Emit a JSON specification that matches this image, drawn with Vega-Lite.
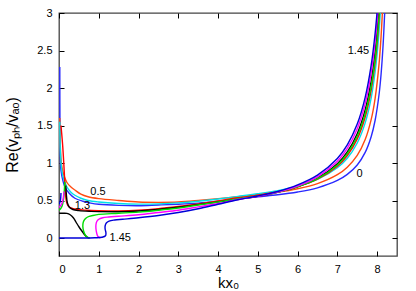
{
"$schema":"https://vega.github.io/schema/vega-lite/v6.json",
"width":338,"height":243,
"autosize":{"type":"none"},
"padding":{"left":59,"top":13,"right":19,"bottom":35},
"background":"white",
"config":{"view":{"stroke":"#444","strokeWidth":1.3},"font":"Liberation Sans",
"axis":{"labelFont":"Liberation Sans","labelFontSize":11,"labelColor":"#000","titleFont":"Liberation Sans","titleFontWeight":"normal","titleColor":"#000","tickColor":"#000","tickWidth":1,"grid":false,"domain":false}},
"datasets":{
"lines":[
{"c":"0","b":"0a","i":1,"x":0.02,"y":2.28},{"c":"0","b":"0a","i":2,"x":0.022,"y":1.8},{"c":"0","b":"0a","i":3,"x":0.025,"y":1.4},{"c":"0","b":"0a","i":4,"x":0.032,"y":1.1},{"c":"0","b":"0a","i":5,"x":0.05,"y":0.9},{"c":"0","b":"0a","i":6,"x":0.1,"y":0.76},{"c":"0","b":"0a","i":7,"x":0.15,"y":0.68},{"c":"0","b":"0a","i":8,"x":0.25,"y":0.6},{"c":"0","b":"0a","i":9,"x":0.4,"y":0.53},{"c":"0","b":"0a","i":10,"x":0.6,"y":0.49},{"c":"0","b":"0a","i":11,"x":0.8,"y":0.465},{"c":"0","b":"0a","i":12,"x":1.0,"y":0.45},{"c":"0","b":"0a","i":13,"x":1.5,"y":0.435},{"c":"0","b":"0a","i":14,"x":2.0,"y":0.43},{"c":"0","b":"0a","i":15,"x":2.5,"y":0.44},{"c":"0","b":"0a","i":16,"x":3.0,"y":0.45},{"c":"0","b":"0a","i":17,"x":3.5,"y":0.465},{"c":"0","b":"0a","i":18,"x":4.0,"y":0.49},{"c":"0","b":"0a","i":19,"x":4.5,"y":0.52},{"c":"0","b":"0a","i":20,"x":5,"y":0.55},{"c":"0","b":"0a","i":21,"x":5.5,"y":0.576},{"c":"0","b":"0a","i":22,"x":6,"y":0.613},{"c":"0","b":"0a","i":23,"x":6.5,"y":0.669},{"c":"0","b":"0a","i":24,"x":7,"y":0.767},{"c":"0","b":"0a","i":25,"x":7.25,"y":0.848},{"c":"0","b":"0a","i":26,"x":7.5,"y":0.974},{"c":"0","b":"0a","i":27,"x":7.7,"y":1.142},{"c":"0","b":"0a","i":28,"x":7.85,"y":1.351},{"c":"0","b":"0a","i":29,"x":7.95,"y":1.57},{"c":"0","b":"0a","i":30,"x":8.05,"y":1.92},{"c":"0","b":"0a","i":31,"x":8.1,"y":2.187},{"c":"0","b":"0a","i":32,"x":8.15,"y":2.569},{"c":"0","b":"0a","i":33,"x":8.19,"y":3.0},

{"c":"0.5","b":"0.5a","i":1,"x":0.02,"y":1.6},{"c":"0.5","b":"0.5a","i":2,"x":0.035,"y":1.2},{"c":"0.5","b":"0.5a","i":3,"x":0.06,"y":1.0},{"c":"0.5","b":"0.5a","i":4,"x":0.1,"y":0.88},{"c":"0.5","b":"0.5a","i":5,"x":0.2,"y":0.74},{"c":"0.5","b":"0.5a","i":6,"x":0.3,"y":0.68},{"c":"0.5","b":"0.5a","i":7,"x":0.4,"y":0.64},{"c":"0.5","b":"0.5a","i":8,"x":0.55,"y":0.585},{"c":"0.5","b":"0.5a","i":9,"x":0.73,"y":0.55},{"c":"0.5","b":"0.5a","i":10,"x":1.0,"y":0.525},{"c":"0.5","b":"0.5a","i":11,"x":1.5,"y":0.5},{"c":"0.5","b":"0.5a","i":12,"x":2.0,"y":0.48},{"c":"0.5","b":"0.5a","i":13,"x":2.5,"y":0.475},{"c":"0.5","b":"0.5a","i":14,"x":3.0,"y":0.48},{"c":"0.5","b":"0.5a","i":15,"x":3.5,"y":0.5},{"c":"0.5","b":"0.5a","i":16,"x":4.0,"y":0.525},{"c":"0.5","b":"0.5a","i":17,"x":4.5,"y":0.55},{"c":"0.5","b":"0.5a","i":18,"x":5,"y":0.58},{"c":"0.5","b":"0.5a","i":19,"x":5.5,"y":0.611},{"c":"0.5","b":"0.5a","i":20,"x":6,"y":0.656},{"c":"0.5","b":"0.5a","i":21,"x":6.5,"y":0.725},{"c":"0.5","b":"0.5a","i":22,"x":7,"y":0.844},{"c":"0.5","b":"0.5a","i":23,"x":7.25,"y":0.944},{"c":"0.5","b":"0.5a","i":24,"x":7.5,"y":1.101},{"c":"0.5","b":"0.5a","i":25,"x":7.7,"y":1.312},{"c":"0.5","b":"0.5a","i":26,"x":7.85,"y":1.578},{"c":"0.5","b":"0.5a","i":27,"x":7.95,"y":1.863},{"c":"0.5","b":"0.5a","i":28,"x":8.05,"y":2.328},{"c":"0.5","b":"0.5a","i":29,"x":8.1,"y":2.694},{"c":"0.5","b":"0.5a","i":30,"x":8.132,"y":3.0},

{"c":"1","b":"1a","i":1,"x":0.02,"y":1.55},{"c":"1","b":"1a","i":2,"x":0.035,"y":1.15},{"c":"1","b":"1a","i":3,"x":0.06,"y":0.95},{"c":"1","b":"1a","i":4,"x":0.1,"y":0.82},{"c":"1","b":"1a","i":5,"x":0.2,"y":0.68},{"c":"1","b":"1a","i":6,"x":0.3,"y":0.61},{"c":"1","b":"1a","i":7,"x":0.4,"y":0.57},{"c":"1","b":"1a","i":8,"x":0.55,"y":0.53},{"c":"1","b":"1a","i":9,"x":0.73,"y":0.5},{"c":"1","b":"1a","i":10,"x":1.0,"y":0.48},{"c":"1","b":"1a","i":11,"x":1.5,"y":0.46},{"c":"1","b":"1a","i":12,"x":2.0,"y":0.452},{"c":"1","b":"1a","i":13,"x":2.5,"y":0.455},{"c":"1","b":"1a","i":14,"x":3.0,"y":0.468},{"c":"1","b":"1a","i":15,"x":3.5,"y":0.49},{"c":"1","b":"1a","i":16,"x":4.0,"y":0.52},{"c":"1","b":"1a","i":17,"x":4.5,"y":0.555},{"c":"1","b":"1a","i":18,"x":5,"y":0.59},{"c":"1","b":"1a","i":19,"x":5.5,"y":0.632},{"c":"1","b":"1a","i":20,"x":6,"y":0.691},{"c":"1","b":"1a","i":21,"x":6.5,"y":0.781},{"c":"1","b":"1a","i":22,"x":7,"y":0.936},{"c":"1","b":"1a","i":23,"x":7.25,"y":1.063},{"c":"1","b":"1a","i":24,"x":7.5,"y":1.267},{"c":"1","b":"1a","i":25,"x":7.7,"y":1.535},{"c":"1","b":"1a","i":26,"x":7.85,"y":1.866},{"c":"1","b":"1a","i":27,"x":7.95,"y":2.214},{"c":"1","b":"1a","i":28,"x":8.0,"y":2.455},{"c":"1","b":"1a","i":29,"x":8.05,"y":2.769},{"c":"1","b":"1a","i":30,"x":8.08,"y":3.0},

{"c":"1.2","b":"1.2a","i":1,"x":0.05,"y":1.5},{"c":"1.2","b":"1.2a","i":2,"x":0.09,"y":1.25},{"c":"1.2","b":"1.2a","i":3,"x":0.12,"y":1.0},{"c":"1.2","b":"1.2a","i":4,"x":0.14,"y":0.8},{"c":"1.2","b":"1.2a","i":5,"x":0.16,"y":0.6},{"c":"1.2","b":"1.2a","i":6,"x":0.19,"y":0.48},{"c":"1.2","b":"1.2a","i":7,"x":0.23,"y":0.43},{"c":"1.2","b":"1.2a","i":8,"x":0.3,"y":0.4},{"c":"1.2","b":"1.2a","i":9,"x":0.45,"y":0.38},{"c":"1.2","b":"1.2a","i":10,"x":0.7,"y":0.37},{"c":"1.2","b":"1.2a","i":11,"x":1.0,"y":0.365},{"c":"1.2","b":"1.2a","i":12,"x":1.5,"y":0.362},{"c":"1.2","b":"1.2a","i":13,"x":2.0,"y":0.37},{"c":"1.2","b":"1.2a","i":14,"x":2.5,"y":0.39},{"c":"1.2","b":"1.2a","i":15,"x":3.0,"y":0.42},{"c":"1.2","b":"1.2a","i":16,"x":3.5,"y":0.455},{"c":"1.2","b":"1.2a","i":17,"x":4.0,"y":0.495},{"c":"1.2","b":"1.2a","i":18,"x":4.5,"y":0.536},{"c":"1.2","b":"1.2a","i":19,"x":5,"y":0.571},{"c":"1.2","b":"1.2a","i":20,"x":5.5,"y":0.617},{"c":"1.2","b":"1.2a","i":21,"x":6,"y":0.683},{"c":"1.2","b":"1.2a","i":22,"x":6.5,"y":0.784},{"c":"1.2","b":"1.2a","i":23,"x":7,"y":0.957},{"c":"1.2","b":"1.2a","i":24,"x":7.25,"y":1.1},{"c":"1.2","b":"1.2a","i":25,"x":7.5,"y":1.322},{"c":"1.2","b":"1.2a","i":26,"x":7.7,"y":1.614},{"c":"1.2","b":"1.2a","i":27,"x":7.85,"y":1.973},{"c":"1.2","b":"1.2a","i":28,"x":7.95,"y":2.344},{"c":"1.2","b":"1.2a","i":29,"x":8.0,"y":2.6},{"c":"1.2","b":"1.2a","i":30,"x":8.059,"y":3.0},

{"c":"1.3","b":"1.3a","i":1,"x":0.17,"y":0.7},{"c":"1.3","b":"1.3a","i":2,"x":0.185,"y":0.58},{"c":"1.3","b":"1.3a","i":3,"x":0.21,"y":0.47},{"c":"1.3","b":"1.3a","i":4,"x":0.26,"y":0.41},{"c":"1.3","b":"1.3a","i":5,"x":0.35,"y":0.38},{"c":"1.3","b":"1.3a","i":6,"x":0.5,"y":0.365},{"c":"1.3","b":"1.3a","i":7,"x":0.8,"y":0.355},{"c":"1.3","b":"1.3a","i":8,"x":1.0,"y":0.352},{"c":"1.3","b":"1.3a","i":9,"x":1.5,"y":0.35},{"c":"1.3","b":"1.3a","i":10,"x":2.0,"y":0.36},{"c":"1.3","b":"1.3a","i":11,"x":2.5,"y":0.38},{"c":"1.3","b":"1.3a","i":12,"x":3.0,"y":0.41},{"c":"1.3","b":"1.3a","i":13,"x":3.5,"y":0.445},{"c":"1.3","b":"1.3a","i":14,"x":4.0,"y":0.48},{"c":"1.3","b":"1.3a","i":15,"x":4.5,"y":0.518},{"c":"1.3","b":"1.3a","i":16,"x":5,"y":0.557},{"c":"1.3","b":"1.3a","i":17,"x":5.5,"y":0.61},{"c":"1.3","b":"1.3a","i":18,"x":6,"y":0.684},{"c":"1.3","b":"1.3a","i":19,"x":6.5,"y":0.797},{"c":"1.3","b":"1.3a","i":20,"x":7,"y":0.989},{"c":"1.3","b":"1.3a","i":21,"x":7.25,"y":1.147},{"c":"1.3","b":"1.3a","i":22,"x":7.5,"y":1.391},{"c":"1.3","b":"1.3a","i":23,"x":7.7,"y":1.708},{"c":"1.3","b":"1.3a","i":24,"x":7.85,"y":2.092},{"c":"1.3","b":"1.3a","i":25,"x":7.95,"y":2.484},{"c":"1.3","b":"1.3a","i":26,"x":8.038,"y":3.0},
{"c":"1.3","b":"1.3b","i":1,"x":0.0,"y":0.33},{"c":"1.3","b":"1.3b","i":2,"x":0.1,"y":0.33},{"c":"1.3","b":"1.3b","i":3,"x":0.2,"y":0.328},{"c":"1.3","b":"1.3b","i":4,"x":0.28,"y":0.31},{"c":"1.3","b":"1.3b","i":5,"x":0.36,"y":0.27},{"c":"1.3","b":"1.3b","i":6,"x":0.43,"y":0.21},{"c":"1.3","b":"1.3b","i":7,"x":0.5,"y":0.15},{"c":"1.3","b":"1.3b","i":8,"x":0.58,"y":0.09},{"c":"1.3","b":"1.3b","i":9,"x":0.65,"y":0.04},{"c":"1.3","b":"1.3b","i":10,"x":0.71,"y":0.01},{"c":"1.3","b":"1.3b","i":11,"x":0.75,"y":0.0},

{"c":"1.4","b":"1.4a","i":1,"x":0.0,"y":0.37},{"c":"1.4","b":"1.4a","i":2,"x":0.04,"y":0.39},{"c":"1.4","b":"1.4a","i":3,"x":0.08,"y":0.43},{"c":"1.4","b":"1.4a","i":4,"x":0.11,"y":0.5},{"c":"1.4","b":"1.4a","i":5,"x":0.13,"y":0.6},{"c":"1.4","b":"1.4a","i":6,"x":0.145,"y":0.75},
{"c":"1.4","b":"1.4b","i":1,"x":0.78,"y":0.0},{"c":"1.4","b":"1.4b","i":2,"x":0.72,"y":0.01},{"c":"1.4","b":"1.4b","i":3,"x":0.66,"y":0.04},{"c":"1.4","b":"1.4b","i":4,"x":0.62,"y":0.09},{"c":"1.4","b":"1.4b","i":5,"x":0.6,"y":0.15},{"c":"1.4","b":"1.4b","i":6,"x":0.61,"y":0.21},{"c":"1.4","b":"1.4b","i":7,"x":0.65,"y":0.25},{"c":"1.4","b":"1.4b","i":8,"x":0.72,"y":0.28},{"c":"1.4","b":"1.4b","i":9,"x":0.85,"y":0.3},{"c":"1.4","b":"1.4b","i":10,"x":1.0,"y":0.315},{"c":"1.4","b":"1.4b","i":11,"x":1.5,"y":0.33},{"c":"1.4","b":"1.4b","i":12,"x":2.0,"y":0.345},{"c":"1.4","b":"1.4b","i":13,"x":2.5,"y":0.37},{"c":"1.4","b":"1.4b","i":14,"x":3.0,"y":0.4},{"c":"1.4","b":"1.4b","i":15,"x":3.5,"y":0.44},{"c":"1.4","b":"1.4b","i":16,"x":4.0,"y":0.48},{"c":"1.4","b":"1.4b","i":17,"x":4.5,"y":0.525},{"c":"1.4","b":"1.4b","i":18,"x":5,"y":0.562},{"c":"1.4","b":"1.4b","i":19,"x":5.5,"y":0.612},{"c":"1.4","b":"1.4b","i":20,"x":6,"y":0.683},{"c":"1.4","b":"1.4b","i":21,"x":6.5,"y":0.791},{"c":"1.4","b":"1.4b","i":22,"x":7,"y":0.974},{"c":"1.4","b":"1.4b","i":23,"x":7.25,"y":1.125},{"c":"1.4","b":"1.4b","i":24,"x":7.5,"y":1.357},{"c":"1.4","b":"1.4b","i":25,"x":7.7,"y":1.659},{"c":"1.4","b":"1.4b","i":26,"x":7.85,"y":2.024},{"c":"1.4","b":"1.4b","i":27,"x":7.95,"y":2.398},{"c":"1.4","b":"1.4b","i":28,"x":8.0,"y":2.651},{"c":"1.4","b":"1.4b","i":29,"x":8.054,"y":3.0},

{"c":"1.43","b":"1.43a","i":1,"x":0.0,"y":0.41},{"c":"1.43","b":"1.43a","i":2,"x":0.04,"y":0.43},{"c":"1.43","b":"1.43a","i":3,"x":0.08,"y":0.47},{"c":"1.43","b":"1.43a","i":4,"x":0.1,"y":0.51},{"c":"1.43","b":"1.43a","i":5,"x":0.115,"y":0.56},{"c":"1.43","b":"1.43a","i":6,"x":0.125,"y":0.62},
{"c":"1.43","b":"1.43b","i":1,"x":1.04,"y":0.0},{"c":"1.43","b":"1.43b","i":2,"x":0.98,"y":0.02},{"c":"1.43","b":"1.43b","i":3,"x":0.95,"y":0.06},{"c":"1.43","b":"1.43b","i":4,"x":0.93,"y":0.12},{"c":"1.43","b":"1.43b","i":5,"x":0.93,"y":0.18},{"c":"1.43","b":"1.43b","i":6,"x":0.95,"y":0.22},{"c":"1.43","b":"1.43b","i":7,"x":1.0,"y":0.25},{"c":"1.43","b":"1.43b","i":8,"x":1.1,"y":0.27},{"c":"1.43","b":"1.43b","i":9,"x":1.25,"y":0.28},{"c":"1.43","b":"1.43b","i":10,"x":1.5,"y":0.29},{"c":"1.43","b":"1.43b","i":11,"x":2.0,"y":0.31},{"c":"1.43","b":"1.43b","i":12,"x":2.5,"y":0.34},{"c":"1.43","b":"1.43b","i":13,"x":3.0,"y":0.37},{"c":"1.43","b":"1.43b","i":14,"x":3.5,"y":0.415},{"c":"1.43","b":"1.43b","i":15,"x":4.0,"y":0.46},{"c":"1.43","b":"1.43b","i":16,"x":4.5,"y":0.513},{"c":"1.43","b":"1.43b","i":17,"x":5,"y":0.555},{"c":"1.43","b":"1.43b","i":18,"x":5.5,"y":0.612},{"c":"1.43","b":"1.43b","i":19,"x":6,"y":0.693},{"c":"1.43","b":"1.43b","i":20,"x":6.5,"y":0.816},{"c":"1.43","b":"1.43b","i":21,"x":7,"y":1.024},{"c":"1.43","b":"1.43b","i":22,"x":7.25,"y":1.195},{"c":"1.43","b":"1.43b","i":23,"x":7.5,"y":1.457},{"c":"1.43","b":"1.43b","i":24,"x":7.7,"y":1.795},{"c":"1.43","b":"1.43b","i":25,"x":7.85,"y":2.203},{"c":"1.43","b":"1.43b","i":26,"x":7.95,"y":2.616},{"c":"1.43","b":"1.43b","i":27,"x":8.016,"y":3.0},

{"c":"1.45","b":"1.45a","i":1,"x":0.0,"y":0.45},{"c":"1.45","b":"1.45a","i":2,"x":0.02,"y":0.47},{"c":"1.45","b":"1.45a","i":3,"x":0.035,"y":0.5},{"c":"1.45","b":"1.45a","i":4,"x":0.045,"y":0.55},{"c":"1.45","b":"1.45a","i":5,"x":0.05,"y":0.6},
{"c":"1.45","b":"1.45b","i":1,"x":0.0,"y":0.0},{"c":"1.45","b":"1.45b","i":2,"x":0.5,"y":0.0},{"c":"1.45","b":"1.45b","i":3,"x":0.9,"y":0.003},{"c":"1.45","b":"1.45b","i":4,"x":1.08,"y":0.01},{"c":"1.45","b":"1.45b","i":5,"x":1.17,"y":0.03},{"c":"1.45","b":"1.45b","i":6,"x":1.18,"y":0.07},{"c":"1.45","b":"1.45b","i":7,"x":1.16,"y":0.12},{"c":"1.45","b":"1.45b","i":8,"x":1.16,"y":0.16},{"c":"1.45","b":"1.45b","i":9,"x":1.19,"y":0.2},{"c":"1.45","b":"1.45b","i":10,"x":1.26,"y":0.225},{"c":"1.45","b":"1.45b","i":11,"x":1.4,"y":0.24},{"c":"1.45","b":"1.45b","i":12,"x":1.6,"y":0.25},{"c":"1.45","b":"1.45b","i":13,"x":2.0,"y":0.27},{"c":"1.45","b":"1.45b","i":14,"x":2.5,"y":0.3},{"c":"1.45","b":"1.45b","i":15,"x":3.0,"y":0.34},{"c":"1.45","b":"1.45b","i":16,"x":3.5,"y":0.39},{"c":"1.45","b":"1.45b","i":17,"x":4.0,"y":0.45},{"c":"1.45","b":"1.45b","i":18,"x":4.5,"y":0.51},{"c":"1.45","b":"1.45b","i":19,"x":5,"y":0.56},{"c":"1.45","b":"1.45b","i":20,"x":5.5,"y":0.62},{"c":"1.45","b":"1.45b","i":21,"x":6,"y":0.708},{"c":"1.45","b":"1.45b","i":22,"x":6.5,"y":0.839},{"c":"1.45","b":"1.45b","i":23,"x":7,"y":1.061},{"c":"1.45","b":"1.45b","i":24,"x":7.25,"y":1.242},{"c":"1.45","b":"1.45b","i":25,"x":7.5,"y":1.519},{"c":"1.45","b":"1.45b","i":26,"x":7.7,"y":1.876},{"c":"1.45","b":"1.45b","i":27,"x":7.85,"y":2.302},{"c":"1.45","b":"1.45b","i":28,"x":7.95,"y":2.73},{"c":"1.45","b":"1.45b","i":29,"x":7.997,"y":3.0}
],
"labels":[
{"t":"0.5","x":0.98,"y":0.61},{"t":"1.3","x":0.59,"y":0.43},{"t":"1.45","x":1.54,"y":0.0},{"t":"1.45","x":7.53,"y":2.49},{"t":"0","x":7.56,"y":0.85}
]},
"layer":[
{"data":{"name":"lines"},
"mark":{"type":"line","strokeWidth":1.4,"interpolate":"catmull-rom","clip":true},
"encoding":{
"x":{"field":"x","type":"quantitative","scale":{"domain":[0,8.5],"nice":false,"zero":false},
"axis":{"values":[0,1,2,3,4,5,6,7,8],"title":"kx₀","titleFontSize":15,"tickSize":-5,"labelPadding":12,"titlePadding":1}},
"y":{"field":"y","type":"quantitative","scale":{"domain":[-0.24,3],"nice":false,"zero":false},
"axis":{"values":[0,0.5,1,1.5,2,2.5,3],"format":"~g","title":"Re(vₚₕ/vₐₒ)","titleFontSize":16,"tickSize":-5,"labelPadding":12,"titlePadding":16}},
"color":{"field":"c","type":"nominal","legend":null,"scale":{"domain":["0","0.5","1","1.2","1.3","1.4","1.43","1.45"],"range":["#2a2aff","#ff4a10","#00e0e8","#ff0000","#000000","#00dd00","#ff00ff","#0000d8"]}},
"detail":{"field":"b","type":"nominal"},
"order":{"field":"i","type":"quantitative"}}},
{"data":{"name":"labels"},
"mark":{"type":"text","font":"Liberation Sans","fontSize":11,"color":"#000","align":"center","baseline":"middle"},
"encoding":{
"x":{"field":"x","type":"quantitative","axis":{"orient":"top","values":[0,1,2,3,4,5,6,7,8],"labels":false,"title":null,"tickSize":-5}},
"y":{"field":"y","type":"quantitative","axis":{"orient":"right","values":[0,0.5,1,1.5,2,2.5,3],"labels":false,"title":null,"tickSize":-5}},
"text":{"field":"t","type":"nominal"}}}
],
"resolve":{"axis":{"x":"independent","y":"independent"}}
}
